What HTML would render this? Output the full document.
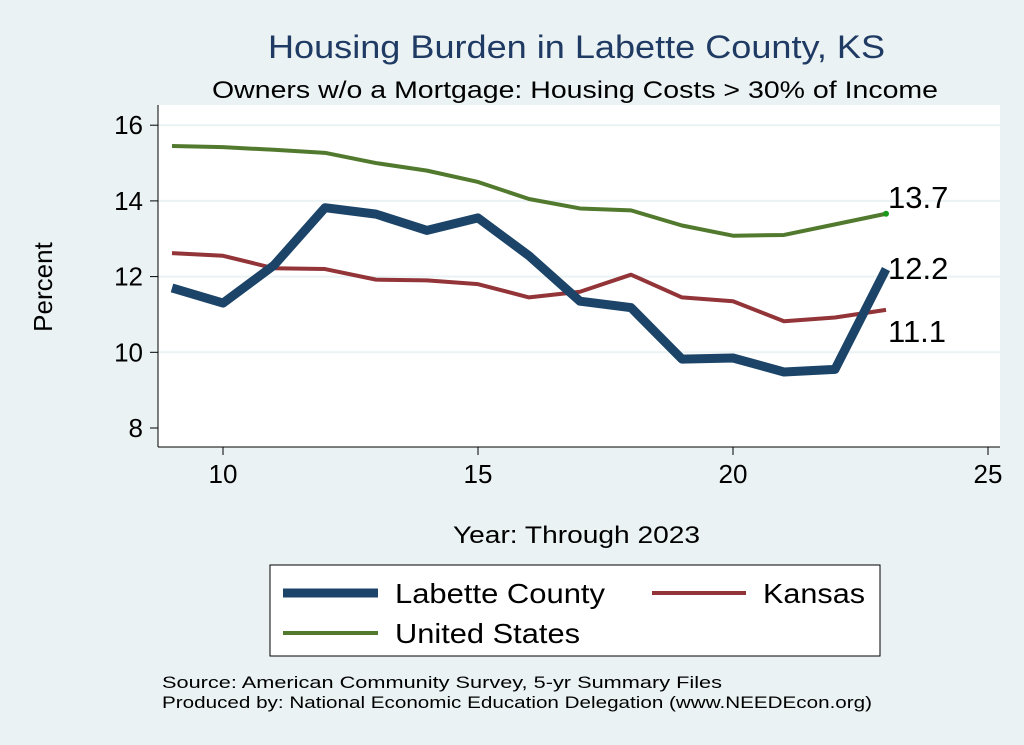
<!DOCTYPE html>
<html><head><meta charset="utf-8"><style>
body{margin:0;background:#eaf2f3;font-family:"Liberation Sans",sans-serif;}
svg{display:block}
</style></head><body>
<svg width="1024" height="745">
<rect x="0" y="0" width="1024" height="745" fill="#eaf2f3"/>
<text x="268" y="58" font-size="32" fill="#1f3a63" textLength="617" lengthAdjust="spacingAndGlyphs">Housing Burden in Labette County, KS</text>
<text x="212" y="98" font-size="24" fill="#000" textLength="726" lengthAdjust="spacingAndGlyphs">Owners w/o a Mortgage: Housing Costs &gt; 30% of Income</text>
<rect x="158" y="105" width="842" height="342" fill="#fff"/>
<g id="grid"></g><g id="axes"></g><g id="series"></g>
<text x="52" y="287" font-size="26" text-anchor="middle" transform="rotate(-90 52 287)">Percent</text>
<text x="453" y="543" font-size="24" textLength="247" lengthAdjust="spacingAndGlyphs">Year: Through 2023</text>
<rect x="270" y="565" width="610" height="91" fill="#fff" stroke="#000" stroke-width="1"/>
<g><line x1="283" y1="593" x2="378" y2="593" stroke="#1b4468" stroke-width="9"/><text x="395" y="603" font-size="28" textLength="210" lengthAdjust="spacingAndGlyphs">Labette County</text></g>
<g><line x1="652" y1="593" x2="746" y2="593" stroke="#923438" stroke-width="4"/><text x="763" y="603" font-size="28" textLength="102" lengthAdjust="spacingAndGlyphs">Kansas</text></g>
<g><line x1="283" y1="633" x2="378" y2="633" stroke="#527a2e" stroke-width="4"/><text x="395" y="643" font-size="28" textLength="185" lengthAdjust="spacingAndGlyphs">United States</text></g>
<text x="162" y="688" font-size="17" textLength="560" lengthAdjust="spacingAndGlyphs">Source: American Community Survey, 5-yr Summary Files</text>
<text x="162" y="708" font-size="17" textLength="710" lengthAdjust="spacingAndGlyphs">Produced by: National Economic Education Delegation (www.NEEDEcon.org)</text>
</svg>
<script>
const years=[9,10,11,12,13,14,15,16,17,18,19,20,21,22,23];
const usVals=[15.45,15.42,15.35,15.27,15.0,14.8,14.5,14.05,13.8,13.75,13.35,13.08,13.1,13.38,13.66];
const ksVals=[12.62,12.55,12.22,12.2,11.92,11.9,11.8,11.45,11.6,12.05,11.45,11.35,10.82,10.92,11.12];
const lbVals=[11.7,11.3,12.3,13.82,13.65,13.22,13.55,12.55,11.35,11.18,9.82,9.85,9.48,9.55,12.2];
const xTicks=[10,15,20,25];
const yTicks=[8,10,12,14,16];
const NS="http://www.w3.org/2000/svg";
const X=v=>223+(v-10)*51;
const Y=v=>428-(v-8)*37.85;
function mk(t,a,p){const e=document.createElementNS(NS,t);for(const k in a)e.setAttribute(k,a[k]);document.getElementById(p).appendChild(e);return e;}
yTicks.forEach(v=>{
 if(v>8){const g=mk('line',{x1:158,x2:1000,y1:Y(v),y2:Y(v),stroke:'#eaf2f3','stroke-width':2},'grid');
 
 }
 mk('line',{x1:150,x2:158,y1:Y(v),y2:Y(v),stroke:'#000'},'axes');
 const t=mk('text',{x:143,y:Y(v)+9,'font-size':26,'text-anchor':'end'},'axes');t.textContent=v;
 
 
});
xTicks.forEach(v=>{
 mk('line',{x1:X(v),x2:X(v),y1:447,y2:455,stroke:'#000'},'axes');
 const t=mk('text',{x:X(v),y:483,'font-size':26,'text-anchor':'middle'},'axes');t.textContent=v;
 
 
});
mk('line',{x1:158,x2:158,y1:105,y2:447,stroke:'#000'},'axes');
mk('line',{x1:158,x2:1000,y1:447,y2:447,stroke:'#000'},'axes');
function line(vals,col,w,name,lx,ly){
 const p=mk('polyline',{points:years.map((y,i)=>X(y)+','+Y(vals[i])).join(' '),fill:'none',stroke:col,'stroke-width':w,'stroke-linejoin':'round'},'series');
 
 
 const n=vals.length-1;
 const t=mk('text',{x:X(years[n])+lx,y:Y(vals[n])+ly,'font-size':31},'series');t.textContent=vals[n].toFixed(1);
 
 
}
line(usVals,'#527a2e',4,'united-states',2,-6);
line(ksVals,'#923438',4,'kansas',2,32);
line(lbVals,'#1b4468',9,'labette-county',2,10);
const d=mk('circle',{cx:X(years[14]),cy:Y(usVals[14]),r:3,fill:'#1a9a1a'},'series');


</script>
</body></html>
